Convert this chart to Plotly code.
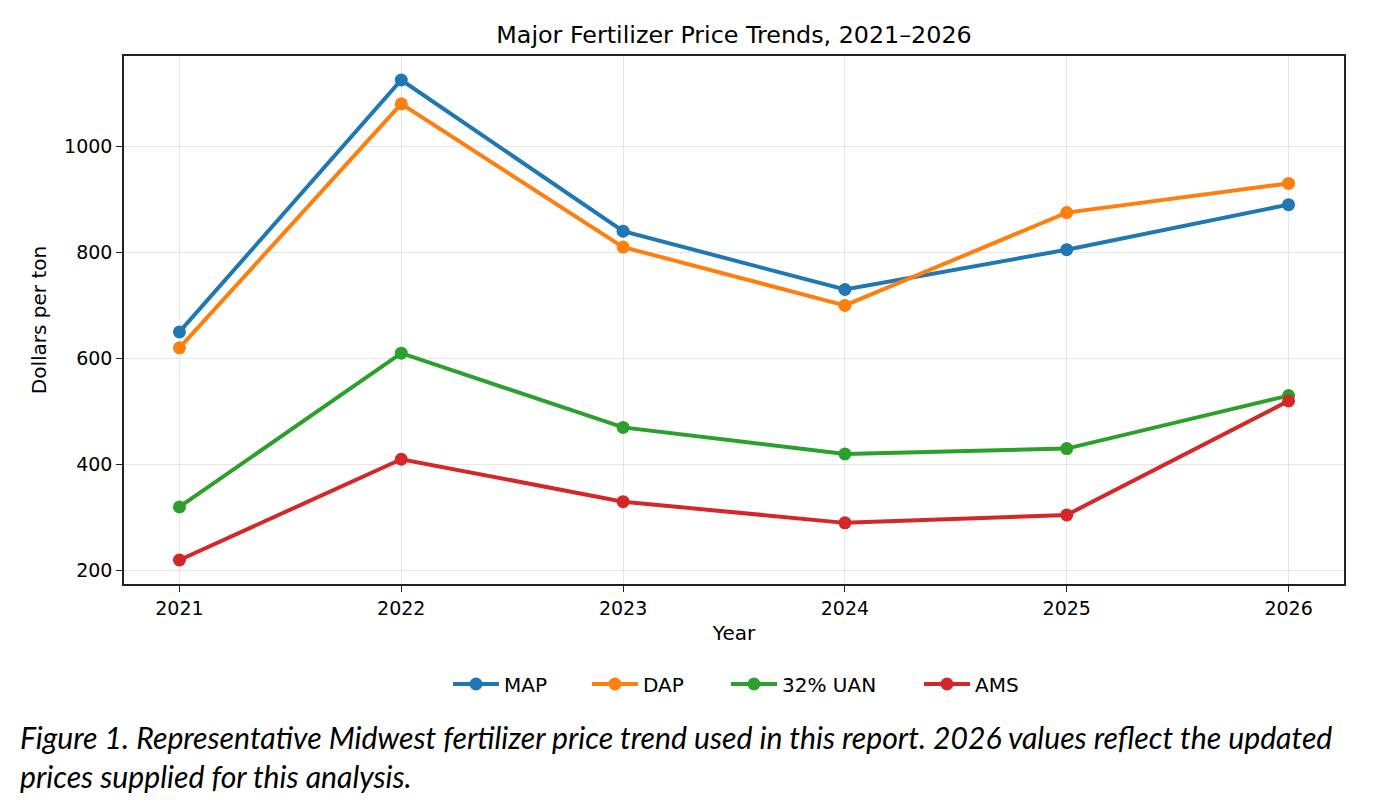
import plotly.graph_objects as go

years = [2021, 2022, 2023, 2024, 2025, 2026]
series_names = ["MAP", "DAP", "32% UAN", "AMS"]
map_vals = [650, 1125, 840, 730, 805, 890]
dap_vals = [620, 1080, 810, 700, 875, 930]
uan_vals = [320, 610, 470, 420, 430, 530]
ams_vals = [220, 410, 330, 290, 305, 520]
colors = ["#1f77b4", "#ff7f0e", "#2ca02c", "#d62728"]
y_ticks = [200, 400, 600, 800, 1000]

title_text = "Major Fertilizer Price Trends, 2021–2026"
caption_1 = "Figure 1. Representative Midwest fertilizer price trend used in this report. 2026 values reflect the updated"
caption_2 = "prices supplied for this analysis."

# legend entry widths (px) to space entries like the reference
legend_widths = [78, 78, 132, 50]

fig = go.Figure()
for name, vals, c, lw in zip(series_names, [map_vals, dap_vals, uan_vals, ams_vals], colors, legend_widths):
    fig.add_trace(go.Scatter(
        x=years, y=vals, name=name, mode="lines+markers",
        line=dict(color=c, width=4),
        marker=dict(color=c, size=13),
        legendwidth=lw,
    ))

OFF = 8  # browser body margin
W, H = 1388 - OFF, 810 - OFF
L, R, T, B = 124 - OFF, 44, 56 - OFF, 226
pw = W - L - R
ph = H - T - B

def px_x(x):
    return (x - OFF - L) / pw

def px_y(y):
    return (H - B - (y - OFF)) / ph

tick_font = dict(family="DejaVu Sans", size=19, color="#000000")
label_font = dict(family="DejaVu Sans", size=20, color="#000000")

fig.update_layout(
    width=W, height=H,
    margin=dict(l=L, r=R, t=T, b=B),
    paper_bgcolor="white", plot_bgcolor="white",
    font=dict(family="DejaVu Sans", color="#000000"),
    title=dict(text=title_text, x=px_x(734), xanchor="center", xref="paper",
               y=1 - (35 - OFF) / H, yanchor="middle", yref="container",
               font=dict(family="DejaVu Sans", size=23.8, color="#000000")),
    xaxis=dict(
        range=[2020.75, 2026.25], tickmode="array", tickvals=years,
        ticktext=[str(y) for y in years], tickfont=tick_font,
        ticks="outside", ticklen=6, tickwidth=1.2, tickcolor="#222222",
        showline=True, linecolor="#222222", linewidth=1.5, mirror=True,
        showgrid=True, gridcolor="rgba(0,0,0,0.09)", gridwidth=1,
        zeroline=False,
        title=dict(text="Year", font=label_font, standoff=8),
    ),
    yaxis=dict(
        range=[174.75, 1170.25], tickmode="array", tickvals=y_ticks,
        tickfont=tick_font,
        ticks="outside", ticklen=6, tickwidth=1.2, tickcolor="#222222",
        showline=True, linecolor="#222222", linewidth=1.5, mirror=True,
        showgrid=True, gridcolor="rgba(0,0,0,0.09)", gridwidth=1,
        zeroline=False,
        title=dict(text="Dollars per ton", font=label_font, standoff=12),
    ),
    legend=dict(
        orientation="h", x=px_x(448), xanchor="left",
        y=px_y(684), yanchor="middle",
        font=dict(family="DejaVu Sans", size=20, color="#000000"),
        entrywidthmode="pixels", itemwidth=46,
    ),
    showlegend=True,
)

cap_font = dict(family="Lato", size=30.2, color="#000000", style="italic")
fig.add_annotation(text=caption_1, xref="paper", yref="paper",
                   x=px_x(18), y=px_y(737), xanchor="left", yanchor="middle",
                   showarrow=False, align="left", font=cap_font)
fig.add_annotation(text=caption_2, xref="paper", yref="paper",
                   x=px_x(18), y=px_y(776), xanchor="left", yanchor="middle",
                   showarrow=False, align="left", font=cap_font)

fig.write_html("out.html")
